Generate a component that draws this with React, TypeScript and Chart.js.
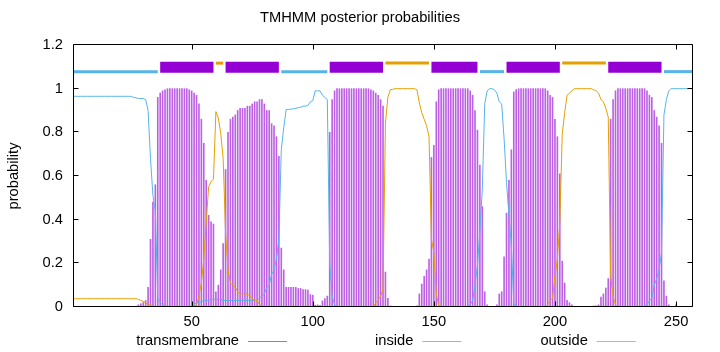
import { useEffect, useRef } from 'react';
import { Chart, registerables } from 'chart.js';

Chart.register(...registerables);

const FONT = 'Liberation Sans';
const FONT_SIZE = 14.7;

const titleText = 'TMHMM posterior probabilities';
const yAxisLabel = 'probability';
const legendLabels = ['transmembrane', 'inside', 'outside'];

const xTicks = [50, 100, 150, 200, 250];
const xTickLabels = ['50', '100', '150', '200', '250'];
const yTicks = [0, 0.2, 0.4, 0.6, 0.8, 1, 1.2];
const yTickLabels = ['0', '0.2', '0.4', '0.6', '0.8', '1', '1.2'];

// residue positions 1..257
const positions: number[] = Array.from({ length: 257 }, (_, i) => i + 1);

const transmembrane = [
  0, 0, 0, 0, 0, 0, 0, 0, 0, 0,
  0, 0, 0, 0, 0, 0, 0, 0, 0, 0,
  0, 0, 0, 0, 0, 0, 0, 0.01, 0.015, 0.02,
  0.03, 0.09, 0.31, 0.48, 0.56, 0.96, 0.98, 0.99, 0.995, 1,
  1, 1, 1, 1, 1, 1, 1, 1, 0.995, 0.99,
  0.98, 0.97, 0.93, 0.86, 0.75, 0.58, 0.42, 0.39, 0.38, 0.07,
  0.1, 0.17, 0.29, 0.63, 0.8, 0.86, 0.87, 0.88, 0.9, 0.91,
  0.91, 0.91, 0.92, 0.92, 0.93, 0.94, 0.94, 0.95, 0.95, 0.93,
  0.9, 0.9, 0.84, 0.83, 0.78, 0.69, 0.27, 0.17, 0.09, 0.09,
  0.09, 0.09, 0.09, 0.085, 0.085, 0.08, 0.08, 0.077, 0.057, 0.054,
  0.008, 0.01, 0.008, 0.028, 0.038, 0.05, 0.8, 0.95, 0.99, 1,
  1, 1, 1, 1, 1, 1, 1, 1, 1, 1,
  1, 1, 1, 0.995, 0.99, 0.98, 0.97, 0.95, 0.92, 0.16,
  0.04, 0.005, 0.003, 0, 0, 0, 0, 0, 0, 0,
  0, 0, 0.005, 0.06, 0.105, 0.14, 0.17, 0.22, 0.685, 0.74,
  0.94, 0.995, 1, 1, 1, 1, 1, 1, 1, 1,
  1, 1, 1, 1, 0.99, 0.97, 0.9, 0.81, 0.65, 0.46,
  0.07, 0.01, 0.003, 0, 0, 0.01, 0.06, 0.07, 0.23, 0.43,
  0.58, 0.72, 0.985, 0.996, 1, 1, 1, 1, 1, 1,
  1, 1, 1, 1, 1, 1, 0.99, 0.97, 0.96, 0.86,
  0.78, 0.61, 0.21, 0.11, 0.03, 0.02, 0.01, 0, 0, 0,
  0, 0, 0, 0, 0, 0.005, 0.005, 0.01, 0.046, 0.06,
  0.087, 0.13, 0.86, 0.95, 0.99, 1, 1, 1, 1, 1,
  1, 1, 1, 1, 1, 1, 1, 0.99, 0.97, 0.96,
  0.9, 0.87, 0.83, 0.75, 0.12, 0.05, 0.01, 0, 0, 0.01,
  0, 0, 0, 0, 0, 0, 0,
];

const inside = [
  0.965, 0.965, 0.965, 0.965, 0.965, 0.965, 0.965, 0.965, 0.965, 0.965,
  0.965, 0.965, 0.965, 0.965, 0.965, 0.965, 0.965, 0.965, 0.965, 0.965,
  0.965, 0.965, 0.965, 0.965, 0.965, 0.96, 0.958, 0.955, 0.955, 0.955,
  0.95, 0.9, 0.68, 0.51, 0.44, 0.04, 0.02, 0.01, 0.005, 0.003,
  0.003, 0.003, 0.003, 0.003, 0.003, 0.003, 0.003, 0.003, 0.003, 0.005,
  0.01, 0.02, 0.02, 0.025, 0.03, 0.03, 0.03, 0.035, 0.035, 0.035,
  0.035, 0.035, 0.03, 0.03, 0.03, 0.03, 0.03, 0.03, 0.03, 0.03,
  0.03, 0.03, 0.03, 0.03, 0.03, 0.03, 0.03, 0.04, 0.05, 0.06,
  0.09, 0.1, 0.15, 0.17, 0.22, 0.31, 0.72, 0.82, 0.905, 0.905,
  0.906, 0.908, 0.91, 0.913, 0.915, 0.92, 0.92, 0.923, 0.94, 0.945,
  0.99, 0.99, 0.99, 0.97, 0.96, 0.95, 0.2, 0.05, 0.01, 0.002,
  0.001, 0.001, 0.001, 0.001, 0.001, 0.001, 0.001, 0.001, 0.001, 0.001,
  0, 0, 0, 0, 0, 0, 0, 0, 0, 0,
  0, 0, 0, 0, 0, 0, 0, 0, 0, 0,
  0, 0, 0, 0, 0, 0, 0, 0, 0, 0,
  0, 0, 0, 0, 0, 0, 0, 0, 0, 0,
  0, 0, 0, 0.005, 0.01, 0.03, 0.1, 0.19, 0.35, 0.54,
  0.93, 0.99, 1, 1, 0.995, 0.98, 0.94, 0.93, 0.77, 0.57,
  0.42, 0.28, 0.015, 0.004, 0, 0, 0, 0, 0, 0,
  0, 0, 0, 0, 0, 0, 0, 0, 0, 0,
  0, 0, 0, 0, 0, 0, 0, 0, 0, 0,
  0, 0, 0, 0, 0, 0, 0, 0, 0, 0,
  0, 0, 0, 0, 0, 0, 0, 0, 0, 0,
  0, 0, 0, 0, 0, 0, 0.005, 0.01, 0.03, 0.04,
  0.1, 0.13, 0.17, 0.25, 0.88, 0.95, 0.99, 1, 1, 1,
  1, 1, 1, 1, 1, 1, 1,
];

const outside = [
  0.038, 0.038, 0.038, 0.038, 0.038, 0.038, 0.038, 0.038, 0.038, 0.038,
  0.038, 0.038, 0.038, 0.038, 0.038, 0.038, 0.038, 0.038, 0.038, 0.038,
  0.038, 0.038, 0.038, 0.038, 0.038, 0.038, 0.038, 0.035, 0.03, 0.025,
  0.02, 0.01, 0.01, 0.005, 0, 0, 0, 0, 0, 0,
  0, 0, 0, 0, 0, 0, 0, 0, 0, 0,
  0.002, 0.01, 0.05, 0.11, 0.22, 0.39, 0.55, 0.575, 0.585, 0.895,
  0.865, 0.795, 0.68, 0.34, 0.17, 0.11, 0.1, 0.09, 0.07, 0.06,
  0.06, 0.06, 0.06, 0.05, 0.04, 0.03, 0.03, 0.01, 0.005, 0.005,
  0.005, 0, 0, 0, 0, 0, 0, 0, 0, 0,
  0, 0, 0, 0, 0, 0, 0, 0, 0, 0,
  0, 0, 0, 0, 0, 0, 0, 0, 0, 0,
  0, 0, 0, 0, 0, 0, 0, 0, 0, 0,
  0, 0, 0, 0, 0, 0.02, 0.03, 0.05, 0.08, 0.84,
  0.96, 0.995, 0.997, 1, 1, 1, 1, 1, 1, 1,
  1, 1, 0.995, 0.935, 0.89, 0.86, 0.83, 0.78, 0.31, 0.25,
  0.06, 0.005, 0, 0, 0, 0, 0, 0, 0, 0,
  0, 0, 0, 0, 0, 0, 0, 0, 0, 0,
  0, 0, 0, 0, 0, 0, 0, 0, 0, 0,
  0, 0, 0, 0, 0, 0, 0, 0, 0, 0,
  0, 0, 0, 0, 0, 0, 0.01, 0.03, 0.04, 0.14,
  0.22, 0.39, 0.79, 0.89, 0.97, 0.98, 0.99, 1, 1, 1,
  1, 1, 1, 1, 1, 0.995, 0.99, 0.98, 0.95, 0.94,
  0.91, 0.87, 0.14, 0.05, 0.01, 0, 0, 0, 0, 0,
  0, 0, 0, 0, 0, 0, 0, 0, 0, 0,
  0, 0, 0, 0, 0, 0, 0, 0, 0, 0,
  0, 0, 0, 0, 0, 0, 0,
];

// predicted topology segments (shown above the curves)
const segStart = [1, 37, 60, 64, 87, 107, 130, 149, 169, 180, 203, 222, 245];
const segEnd = [36, 59, 63, 86, 106, 129, 148, 168, 179, 202, 221, 244, 257];
const segType = ['inside', 'TMhelix', 'outside', 'TMhelix', 'inside', 'TMhelix', 'outside', 'TMhelix', 'inside', 'TMhelix', 'outside', 'TMhelix', 'inside'];

const COLORS: Record<string, string> = {
  TMhelix: '#9400D3',
  inside: '#56B4E9',
  outside: '#E69F00',
};
const SEG_LEVEL: Record<string, number> = { inside: 1.078, TMhelix: 1.098, outside: 1.117 };
const SEG_WIDTH: Record<string, number> = { inside: 3, TMhelix: 11, outside: 3 };
const TM_BAR_COLOR = 'rgba(148,0,211,0.62)';
const LEGEND_COLORS = ['rgba(148,0,211,0.62)', 'rgba(86,180,233,0.8)', 'rgba(230,159,0,0.8)'];

const framePlugin = {
  id: 'gnuplotFrame',
  afterDraw(chart: any) {
    const { ctx, chartArea: a, scales, width } = chart;
    ctx.save();
    ctx.strokeStyle = '#000';
    ctx.lineWidth = 1;
    const L = Math.round(a.left) + 0.5;
    const R = Math.round(a.right) - 0.5;
    const T = Math.round(a.top) - 0.5;
    const B = Math.round(a.bottom) - 0.5;
    ctx.beginPath();
    ctx.rect(L, T, R - L, B - T);
    const tl = 5;
    xTicks.forEach((v) => {
      const px = Math.round(scales.x.getPixelForValue(v)) + 0.5;
      ctx.moveTo(px, B);
      ctx.lineTo(px, B - tl);
      ctx.moveTo(px, T);
      ctx.lineTo(px, T + tl);
    });
    yTicks.forEach((v) => {
      const py = Math.round(scales.y.getPixelForValue(v)) - 0.5;
      ctx.moveTo(L, py);
      ctx.lineTo(L + tl, py);
      ctx.moveTo(R, py);
      ctx.lineTo(R - tl, py);
    });
    ctx.stroke();

    ctx.font = `${FONT_SIZE}px "${FONT}"`;
    ctx.fillStyle = '#000';
    ctx.textBaseline = 'middle';

    // title, centred on the canvas
    ctx.textAlign = 'center';
    ctx.fillText(titleText, width / 2, 18);

    // legend: text then sample line, below the plot
    const cx = (a.left + a.right) / 2;
    const ly = 341;
    ctx.textAlign = 'right';
    legendLabels.forEach((lab, i) => {
      const xr = cx - 144 + i * 174.4;
      ctx.fillText(lab, xr, ly);
      ctx.beginPath();
      ctx.strokeStyle = LEGEND_COLORS[i];
      ctx.lineWidth = 1;
      ctx.moveTo(xr + 9, ly + 0.5);
      ctx.lineTo(xr + 48, ly + 0.5);
      ctx.stroke();
    });
    ctx.restore();
  },
};

export default function App() {
  const ref = useRef<HTMLCanvasElement | null>(null);
  useEffect(() => {
    if (!ref.current) return;
    const datasets: any[] = [];
    segStart.forEach((s, i) => {
      const t = segType[i];
      datasets.push({
        type: 'line',
        label: t,
        data: [
          { x: s, y: SEG_LEVEL[t] },
          { x: segEnd[i], y: SEG_LEVEL[t] },
        ],
        borderColor: COLORS[t],
        borderWidth: SEG_WIDTH[t],
        borderCapStyle: 'butt',
        pointRadius: 0,
        order: 1,
      });
    });
    datasets.push({
      type: 'line',
      label: 'outside',
      data: positions.map((x, i) => ({ x, y: outside[i] })),
      borderColor: COLORS.outside,
      borderWidth: 1,
      pointRadius: 0,
      tension: 0,
      order: 2,
    });
    datasets.push({
      type: 'line',
      label: 'inside',
      data: positions.map((x, i) => ({ x, y: inside[i] })),
      borderColor: COLORS.inside,
      borderWidth: 1,
      pointRadius: 0,
      tension: 0,
      order: 3,
    });
    datasets.push({
      type: 'bar',
      label: 'transmembrane',
      data: positions.map((x, i) => ({ x, y: transmembrane[i] })),
      backgroundColor: TM_BAR_COLOR,
      borderWidth: 0,
      barThickness: 1,
      order: 4,
    });

    const chart = new Chart(ref.current, {
      type: 'bar',
      data: { datasets },
      options: {
        animation: false,
        responsive: false,
        events: [],
        layout: { padding: { left: 0, right: 27, top: 45, bottom: 0 } },
        plugins: {
          legend: { display: false },
          tooltip: { enabled: false },
          title: { display: false },
        },
        scales: {
          x: {
            type: 'linear',
            min: 1,
            max: 257,
            offset: false,
            grid: { display: false, drawTicks: false, offset: false },
            border: { display: false },
            afterBuildTicks: (scale: any) => {
              scale.ticks = xTicks.map((v) => ({ value: v }));
            },
            afterFit: (scale: any) => {
              scale.height = 45;
            },
            ticks: {
              autoSkip: false,
              maxRotation: 0,
              padding: 6,
              color: '#000',
              font: { family: FONT, size: FONT_SIZE },
              callback: (_v: any, i: number) => xTickLabels[i],
            },
          },
          y: {
            type: 'linear',
            min: 0,
            max: 1.2,
            grid: { display: false, drawTicks: false },
            border: { display: false },
            afterBuildTicks: (scale: any) => {
              scale.ticks = yTicks.map((v) => ({ value: v }));
            },
            afterFit: (scale: any) => {
              scale.width = 73;
            },
            title: {
              display: true,
              text: yAxisLabel,
              color: '#000',
              font: { family: FONT, size: FONT_SIZE },
              padding: { top: 5, bottom: 0 },
            },
            ticks: {
              padding: 10,
              color: '#000',
              font: { family: FONT, size: FONT_SIZE },
              callback: (_v: any, i: number) => yTickLabels[i],
            },
          },
        },
      },
      plugins: [framePlugin],
    } as any);
    return () => chart.destroy();
  }, []);

  return (
    <div style={{ position: 'absolute', left: 0, top: 0, width: 720, height: 352, background: '#fff' }}>
      <canvas ref={ref} width={720} height={352} />
    </div>
  );
}
